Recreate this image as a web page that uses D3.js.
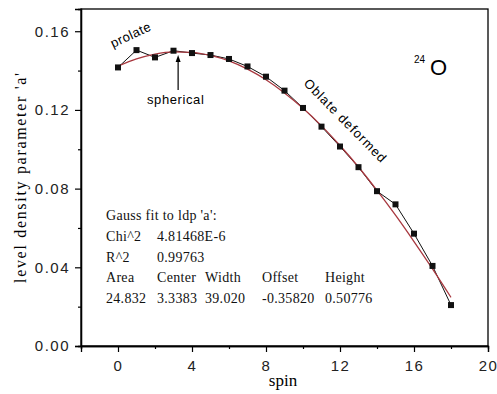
<!DOCTYPE html>
<html><head><meta charset="utf-8">
<script src="https://cdn.jsdelivr.net/npm/d3@7"></script>
<style>body{margin:0;background:#fff}svg{display:block}</style>
</head><body>
<svg id="c" width="497" height="394"></svg>
<script>
// ---- data ----
const spin = [0,1,2,3,4,5,6,7,8,9,10,11,12,13,14,15,16,17,18];
const ldpA = [0.1416,0.1504,0.1467,0.1501,0.1489,0.1479,0.1459,0.1421,0.1369,0.1298,0.1210,0.1115,0.1014,0.0909,0.0787,0.0720,0.0571,0.0407,0.0208];
const fitA = [0.1422,0.1459,0.1484,0.1495,0.1493,0.1477,0.1449,0.1407,0.1353,0.1286,0.1208,0.1119,0.1019,0.0910,0.0791,0.0665,0.0531,0.0392,0.0247];
const xTicks = [0,4,8,12,16,20];
const xMinor = [-2,2,6,10,14,18];
const yTicks = [0,0.04,0.08,0.12,0.16];
const yMinor = [0.02,0.06,0.10,0.14];
const fitRows = [
  ["Gauss fit to ldp 'a':"],
  ["Chi^2","4.81468E-6"],
  ["R^2","0.99763"],
  ["Area","Center","Width","Offset","Height"],
  ["24.832","3.3383","39.020","-0.35820","0.50776"]
];

const svg = d3.select("#c");
const L=81,R=488,T=9,B=346;
const x = d3.scaleLinear().domain([-2,20]).range([L,R]);
const y = d3.scaleLinear().domain([0,0.1713]).range([B,T]);

// frame
svg.append("rect").attr("x",L).attr("y",T).attr("width",R-L).attr("height",B-T)
  .attr("fill","none").attr("stroke","#000").attr("stroke-width",1.3);

const tickFont = "'Liberation Sans', Arial, sans-serif";
// x axis
const gx = svg.append("g").attr("transform",`translate(0,${B})`)
  .call(d3.axisBottom(x).tickValues(xTicks).tickSize(6).tickFormat(d3.format("d")));
gx.append("g").call(d3.axisBottom(x).tickValues(xMinor).tickSize(3).tickFormat(""));
// y axis
const gy = svg.append("g").attr("transform",`translate(${L},0)`)
  .call(d3.axisLeft(y).tickValues(yTicks).tickSize(6).tickFormat(d3.format(".2f")));
gy.append("g").call(d3.axisLeft(y).tickValues(yMinor).tickSize(3).tickFormat(""));
svg.selectAll(".domain").attr("stroke","#000").attr("stroke-width",1.3);
svg.selectAll(".tick line").attr("stroke","#000").attr("stroke-width",1.2);
gx.selectAll(".tick text").attr("font-family",tickFont).attr("font-size",15)
  .attr("letter-spacing","1.5px").attr("fill","#222").attr("dy","1.05em");
gy.selectAll(".tick text").attr("font-family",tickFont).attr("font-size",15)
  .attr("letter-spacing","1.5px").attr("fill","#222").attr("x",-11);

// axis titles
const serif = "'Liberation Serif','Times New Roman',serif";
svg.append("text").attr("transform","translate(26,178) rotate(-90)")
  .attr("text-anchor","middle").attr("font-family",serif).attr("font-size",16)
  .attr("textLength",210).attr("lengthAdjust","spacing")
  .text("level density parameter 'a'");
svg.append("text").attr("x",283).attr("y",386).attr("text-anchor","middle")
  .attr("font-family",serif).attr("font-size",17).text("spin");

// data line and fit
const pts = spin.map((s,i)=>({s, a:ldpA[i], f:fitA[i]}));
svg.append("path").datum(pts)
  .attr("d",d3.line().x(d=>x(d.s)).y(d=>y(d.a)))
  .attr("fill","none").attr("stroke","#111").attr("stroke-width",1);
svg.append("path").datum(pts)
  .attr("d",d3.line().curve(d3.curveMonotoneX).x(d=>x(d.s)).y(d=>y(d.f)))
  .attr("fill","none").attr("stroke","#a8383f").attr("stroke-width",1.3);
svg.selectAll("rect.pt").data(pts).enter().append("rect").attr("class","pt")
  .attr("x",d=>x(d.s)-3).attr("y",d=>y(d.a)-3).attr("width",6).attr("height",6)
  .attr("fill","#111");

// annotations
const sans = "'Liberation Sans', Arial, sans-serif";
svg.append("text").attr("transform","translate(113,48) rotate(-25)")
  .attr("font-family",sans).attr("font-size",13).attr("letter-spacing","0.5px").text("prolate");
svg.append("text").attr("x",147).attr("y",104)
  .attr("font-family",sans).attr("font-size",13).attr("letter-spacing","0.6px").text("spherical");
const ax = x(3.25);
svg.append("line").attr("x1",ax).attr("x2",ax).attr("y1",90).attr("y2",60)
  .attr("stroke","#000").attr("stroke-width",1.2);
svg.append("path").attr("d",`M${ax},55 L${ax-2.5},62 L${ax+2.5},62 Z`).attr("fill","#000");
svg.append("text").attr("transform","translate(303,84) rotate(45.5)")
  .attr("font-family",sans).attr("font-size",13).attr("textLength",111)
  .attr("lengthAdjust","spacing").text("Oblate deformed");
svg.append("text").attr("x",414).attr("y",63).attr("font-family",sans)
  .attr("font-size",10).text("24");
svg.append("text").attr("x",430).attr("y",75).attr("font-family",sans)
  .attr("font-size",22).text("O");

// fit results
const colX = [106,157,205,262,325];
const rowY = [220,241,262,282,303];
fitRows.forEach((row,ri)=>{
  row.forEach((t,ci)=>{
    svg.append("text").attr("x",colX[ci]).attr("y",rowY[ri])
      .attr("font-family",serif).attr("font-size",14).attr("letter-spacing","0.3px")
      .attr("fill","#111").text(t);
  });
});
</script>
</body></html>
